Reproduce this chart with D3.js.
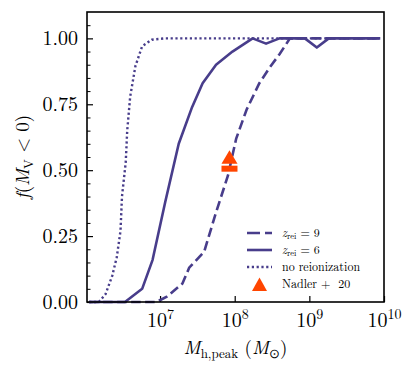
<!DOCTYPE html>
<html>
<head>
<meta charset="utf-8">
<script src="https://cdn.jsdelivr.net/npm/d3@7"></script>
<style>
body { margin: 0; background: #fff; }
text { font-family: "Latin Modern Roman", "CMU Serif", "Liberation Serif", serif; fill: #000; }
</style>
</head>
<body>
<svg id="chart" width="415" height="372"></svg>
<script>
// log10(M_h,peak / Msun) and the fraction f(M_V < 0) for each model
const logMassRei9 = [6.05, 6.95, 7.09, 7.30, 7.39, 7.59, 7.75, 7.91, 8.02, 8.16, 8.33, 8.47, 8.60, 8.74, 9.95]
const fracRei9 = [0, 0, 0.02, 0.07, 0.13, 0.19, 0.34, 0.48, 0.62, 0.73, 0.83, 0.89, 0.94, 1.0, 1.0]

const logMassRei6 = [6.05, 6.53, 6.76, 6.90, 7.07, 7.25, 7.43, 7.57, 7.75, 7.97, 8.24, 8.42, 8.60, 8.94, 9.10, 9.26, 9.95]
const fracRei6 = [0, 0, 0.05, 0.16, 0.38, 0.60, 0.74, 0.83, 0.90, 0.95, 1.0, 0.98, 1.0, 1.0, 0.965, 1.0, 1.0]

const logMassNoRei = [6.05, 6.18, 6.27, 6.36, 6.42, 6.47, 6.49, 6.54, 6.56, 6.60, 6.67, 6.76, 6.89, 7.07, 9.95]
const fracNoRei = [0, 0, 0.03, 0.10, 0.17, 0.27, 0.40, 0.53, 0.65, 0.78, 0.895, 0.97, 0.995, 1.0, 1.0]

// Nadler+20 point
const nadlerLogMass = 7.93
const nadlerFrac = 0.5

const yTicks = [0, 0.25, 0.5, 0.75, 1.0]
const yMinorTicks = [0.05, 0.1, 0.15, 0.2, 0.3, 0.35, 0.4, 0.45, 0.55, 0.6, 0.65, 0.7, 0.8, 0.85, 0.9, 0.95, 1.05]
const xTicks = [1e7, 1e8, 1e9, 1e10]
const xTickExps = ["7", "8", "9", "10"]

const lineColor = "#483d8b"
const markColor = "#ff4500"

const plotLeft = 87, plotRight = 384, plotTop = 12, plotBottom = 302

const svg = d3.select("#chart")

const x = d3.scaleLog().domain([1.05e6, 1e10]).range([plotLeft, plotRight])
const y = d3.scaleLinear().domain([0, 1.1]).range([plotBottom, plotTop])

// y axis (ticks point inward)
svg.append("g")
    .attr("transform", `translate(${plotLeft},0)`)
    .call(d3.axisLeft(y).tickValues(yTicks).tickSizeInner(-6).tickSizeOuter(0).tickPadding(9)
        .tickFormat(d3.format(".2f")))
    .call(g => g.select(".domain").remove())
    .call(g => g.selectAll("line").attr("stroke", "#000").attr("stroke-width", 1.2))
    .call(g => g.selectAll("text").attr("font-size", 20).attr("font-family", null))

svg.append("g")
    .attr("transform", `translate(${plotLeft},0)`)
    .call(d3.axisLeft(y).tickValues(yMinorTicks).tickSizeInner(-3.5).tickSizeOuter(0).tickFormat(""))
    .call(g => g.select(".domain").remove())
    .call(g => g.selectAll("line").attr("stroke", "#000").attr("stroke-width", 1))

// x axis
const xAxis = svg.append("g")
    .attr("transform", `translate(0,${plotBottom})`)
    .call(d3.axisBottom(x).tickValues(xTicks).tickSizeInner(-6).tickSizeOuter(0).tickFormat(""))
    .call(g => g.select(".domain").remove())
    .call(g => g.selectAll("line").attr("stroke", "#000").attr("stroke-width", 1.2))

xAxis.attr("font-family", null)
xAxis.selectAll(".tick").each(function (d, i) {
    const t = d3.select(this).append("text")
        .attr("y", 25).attr("text-anchor", "middle").attr("font-size", 20)
    t.append("tspan").text("10")
    t.append("tspan").attr("font-size", 14).attr("dy", -8).text(xTickExps[i])
})

// data lines
const line = d3.line()
    .x(d => x(10 ** d[0]))
    .y(d => y(d[1]))

svg.append("path")
    .attr("d", line(d3.zip(logMassRei9, fracRei9)))
    .attr("fill", "none").attr("stroke", lineColor).attr("stroke-width", 2.6)
    .attr("stroke-dasharray", "9.5,4.5")

svg.append("path")
    .attr("d", line(d3.zip(logMassRei6, fracRei6)))
    .attr("fill", "none").attr("stroke", lineColor).attr("stroke-width", 2.6)
    .attr("stroke-linejoin", "round")

svg.append("path")
    .attr("d", line(d3.zip(logMassNoRei, fracNoRei)))
    .attr("fill", "none").attr("stroke", lineColor).attr("stroke-width", 2.4)
    .attr("stroke-dasharray", "2.2,2.6")

// Nadler+20 marker
const nx = x(10 ** nadlerLogMass), ny = y(nadlerFrac)
svg.append("path")
    .attr("d", `M${nx},${ny - 20} L${nx + 8},${ny - 6.5} L${nx - 8},${ny - 6.5} Z`)
    .attr("fill", markColor)
svg.append("rect")
    .attr("x", nx - 8).attr("y", ny - 4.5).attr("width", 16).attr("height", 6)
    .attr("fill", markColor)

// frame
svg.append("rect")
    .attr("x", plotLeft).attr("y", plotTop)
    .attr("width", plotRight - plotLeft).attr("height", plotBottom - plotTop)
    .attr("fill", "none").attr("stroke", "#000").attr("stroke-width", 1.6)

// legend
const legend = svg.append("g").attr("transform", "translate(247,233)")
const legendRows = [
    { dash: "13,5", width: 2.6 },
    { dash: null, width: 2.6 },
    { dash: "2.2,2.6", width: 2.4 }
]
legendRows.forEach((r, i) => {
    legend.append("line")
        .attr("x1", 0).attr("x2", 25).attr("y1", i * 17).attr("y2", i * 17)
        .attr("stroke", lineColor).attr("stroke-width", r.width)
        .attr("stroke-dasharray", r.dash)
})
legend.append("path")
    .attr("d", "M12.5,44.5 L20,58 L5,58 Z")
    .attr("fill", markColor)

const lt = (i) => legend.append("text").attr("x", 35).attr("y", i * 17 + 4).attr("font-size", 12)
let t = lt(0)
t.append("tspan").attr("font-style", "italic").text("z")
t.append("tspan").attr("font-size", 8.5).attr("dy", 2).text("rei")
t.append("tspan").attr("dy", -2).text(" = 9")
t = lt(1)
t.append("tspan").attr("font-style", "italic").text("z")
t.append("tspan").attr("font-size", 8.5).attr("dy", 2).text("rei")
t.append("tspan").attr("dy", -2).text(" = 6")
lt(2).text("no reionization")
lt(3).attr("xml:space", "preserve").text("Nadler +  20")

// axis titles
const xl = svg.append("text").attr("x", (plotLeft + plotRight) / 2).attr("y", 354)
    .attr("text-anchor", "middle").attr("font-size", 19)
xl.append("tspan").attr("font-style", "italic").text("M")
xl.append("tspan").attr("font-size", 13).attr("dy", 4).text("h,peak")
xl.append("tspan").attr("dy", -4).text(" (")
xl.append("tspan").attr("font-style", "italic").text("M")
xl.append("tspan").attr("font-size", 13).attr("dy", 4).text("⊙")
xl.append("tspan").attr("dy", -4).text(")")

const yl = svg.append("text")
    .attr("transform", `translate(29,${(plotTop + plotBottom) / 2}) rotate(-90)`)
    .attr("text-anchor", "middle").attr("font-size", 19)
yl.append("tspan").attr("font-style", "italic").text("f")
yl.append("tspan").text("(")
yl.append("tspan").attr("font-style", "italic").text("M")
yl.append("tspan").attr("font-size", 13).attr("dy", 4).text("V")
yl.append("tspan").attr("dy", -4).text(" < 0)")
</script>
</body>
</html>
